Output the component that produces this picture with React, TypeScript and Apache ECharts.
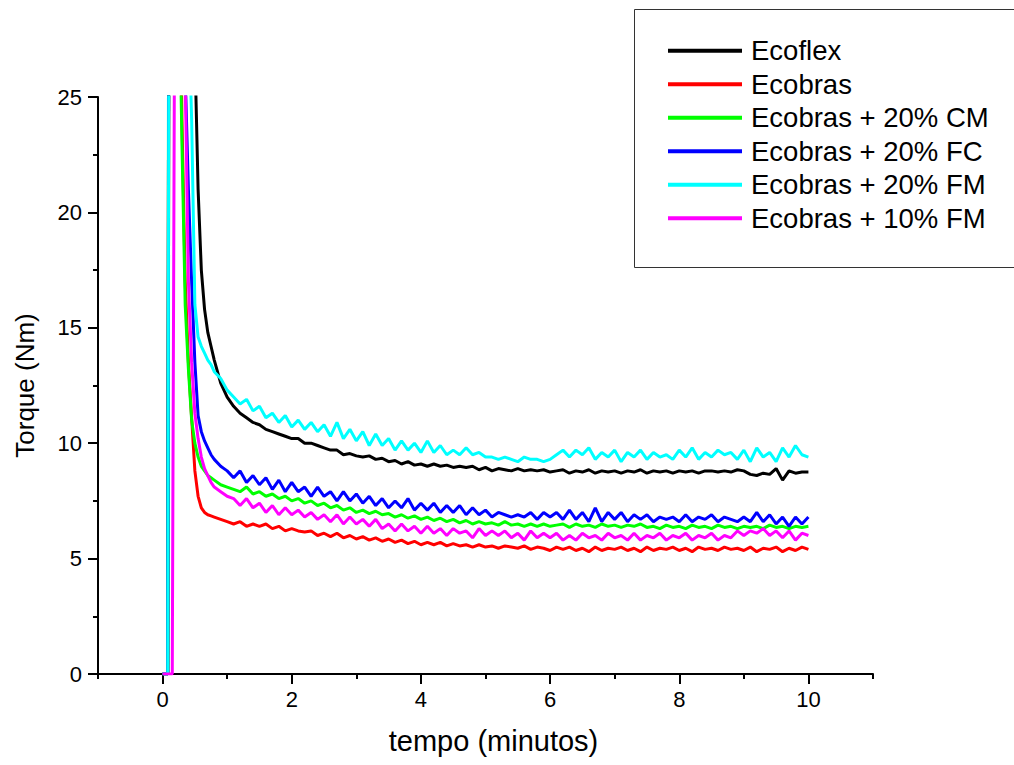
import React, { useEffect, useRef } from "react";
import * as echarts from "echarts";

const TIME = [
  0, 0.05, 0.08, 0.1, 0.15, 0.2, 0.25, 0.3, 0.35, 0.4, 0.45, 0.5, 0.55, 0.6, 0.65, 0.7, 0.75, 0.8, 0.9, 1.0,
  1.1, 1.2, 1.3, 1.4, 1.5, 1.6, 1.7, 1.8, 1.9, 2.0,
  2.1, 2.2, 2.3, 2.4, 2.5, 2.6, 2.7, 2.8, 2.9, 3.0,
  3.1, 3.2, 3.3, 3.4, 3.5, 3.6, 3.7, 3.8, 3.9, 4.0,
  4.1, 4.2, 4.3, 4.4, 4.5, 4.6, 4.7, 4.8, 4.9, 5.0,
  5.1, 5.2, 5.3, 5.4, 5.5, 5.6, 5.7, 5.8, 5.9, 6.0,
  6.1, 6.2, 6.3, 6.4, 6.5, 6.6, 6.7, 6.8, 6.9, 7.0,
  7.1, 7.2, 7.3, 7.4, 7.5, 7.6, 7.7, 7.8, 7.9, 8.0,
  8.1, 8.2, 8.3, 8.4, 8.5, 8.6, 8.7, 8.8, 8.9, 9.0,
  9.1, 9.2, 9.3, 9.4, 9.5, 9.6, 9.7, 9.8, 9.9, 10.0,
];

const ECOFLEX = [
  0, 0, 0, 30, 55, 62, 58, 50, 42, 36, 31, 27, 21, 17.5, 15.8, 14.8, 14.2, 13.6, 12.6, 12.0,
  11.6, 11.3, 11.1, 10.9, 10.8, 10.6, 10.5, 10.4, 10.3, 10.2,
  10.2, 10.0, 10.0, 9.9, 9.8, 9.7, 9.7, 9.5, 9.55, 9.45,
  9.4, 9.45, 9.3, 9.35, 9.2, 9.25, 9.1, 9.2, 9.05, 9.1,
  9.0, 9.1, 9.0, 9.05, 8.95, 9.0, 8.95, 9.0, 8.85, 8.95,
  8.8, 8.9, 8.85, 8.8, 8.9, 8.8, 8.85, 8.8, 8.85, 8.75,
  8.8, 8.85, 8.7, 8.8, 8.75, 8.85, 8.7, 8.8, 8.75, 8.8,
  8.7, 8.8, 8.75, 8.85, 8.7, 8.8, 8.75, 8.8, 8.7, 8.8,
  8.75, 8.8, 8.7, 8.8, 8.8, 8.75, 8.8, 8.75, 8.85, 8.8,
  8.65, 8.6, 8.7, 8.65, 8.9, 8.4, 8.8, 8.7, 8.75, 8.75,
];

const ECOBRAS = [
  0, 0, 0, 40, 55, 46, 35, 24, 17, 13.5, 11.1, 8.8, 7.7, 7.2, 7.0, 6.9, 6.85, 6.8, 6.7, 6.6,
  6.5, 6.6, 6.4, 6.5, 6.4, 6.5, 6.3, 6.4, 6.2, 6.3,
  6.2, 6.15, 6.2, 6.0, 6.1, 5.95, 6.1, 5.9, 6.0, 5.85,
  5.95, 5.8, 5.9, 5.75, 5.85, 5.7, 5.8, 5.65, 5.75, 5.6,
  5.7, 5.6, 5.7, 5.55, 5.65, 5.55, 5.6, 5.5, 5.6, 5.5,
  5.55, 5.45, 5.55, 5.5, 5.45, 5.55, 5.4, 5.5, 5.45, 5.35,
  5.5, 5.4, 5.5, 5.35, 5.45, 5.3, 5.5, 5.35, 5.45, 5.4,
  5.5, 5.35, 5.45, 5.3, 5.5, 5.35, 5.45, 5.4, 5.5, 5.35,
  5.45, 5.3, 5.5, 5.4, 5.45, 5.35, 5.5, 5.4, 5.45, 5.35,
  5.5, 5.3, 5.45, 5.4, 5.5, 5.3, 5.45, 5.35, 5.5, 5.4,
];

const ECOBRAS_CM20 = [
  0, 0, 0, 45, 55, 42, 31, 23, 16, 13.2, 11.0, 10.0, 9.4, 9.0, 8.8, 8.6, 8.5, 8.4, 8.2, 8.1,
  8.0, 7.9, 8.1, 7.8, 7.9, 7.7, 7.8, 7.6, 7.7, 7.5,
  7.6, 7.4, 7.5, 7.3, 7.4, 7.2, 7.3, 7.1, 7.2, 7.0,
  7.1, 6.95, 7.05, 6.9, 6.95, 6.8, 6.9, 6.75, 6.85, 6.7,
  6.8, 6.65, 6.75, 6.6, 6.7, 6.55, 6.65, 6.5, 6.6, 6.5,
  6.55, 6.45, 6.6, 6.45, 6.5, 6.4, 6.5, 6.4, 6.5, 6.4,
  6.45, 6.5, 6.35, 6.5, 6.4, 6.45, 6.35, 6.5, 6.4, 6.45,
  6.35, 6.45, 6.4, 6.5, 6.35, 6.4, 6.3, 6.45, 6.35, 6.4,
  6.3, 6.45, 6.35, 6.4, 6.3, 6.45, 6.35, 6.4, 6.3, 6.4,
  6.35, 6.4, 6.3, 6.45, 6.35, 6.4, 6.3, 6.4, 6.35, 6.4,
];

const ECOBRAS_FC20 = [
  0, 0, 0, 40, 58, 60, 50, 38, 26, 21, 17, 13.5, 11.2, 10.5, 10.1, 9.8, 9.5, 9.3, 9.0, 8.8,
  8.5, 8.8, 8.3, 8.6, 8.2, 8.5, 8.0, 8.4, 7.9, 8.3,
  7.9, 8.1, 7.7, 8.1, 7.7, 7.9, 7.5, 7.9, 7.5, 7.8,
  7.4, 7.7, 7.3, 7.6, 7.2, 7.5, 7.2, 7.6, 7.1, 7.4,
  7.1, 7.4, 7.0, 7.3, 7.0, 7.3, 6.9, 7.2, 6.9, 7.1,
  6.8, 7.0, 6.9, 6.8, 6.9, 6.8, 7.0, 6.7, 7.0, 6.8,
  7.0, 6.7, 7.1, 6.7, 7.0, 6.6, 7.2, 6.6, 7.0, 6.7,
  7.0, 6.6, 6.9, 6.7, 6.9, 6.6, 6.8, 6.7, 6.8, 6.6,
  6.9, 6.6, 6.8, 6.7, 6.9, 6.6, 6.8, 6.7, 6.6, 6.8,
  6.6, 7.0, 6.6, 6.9, 6.5, 6.8, 6.4, 6.8, 6.5, 6.8,
];

const ECOBRAS_FM20 = [
  0, 0, 0, 35, 55, 58, 52, 44, 36, 29, 24, 16, 14.6, 14.2, 13.9, 13.6, 13.4, 13.1, 12.8, 12.3,
  12.0, 11.7, 11.9, 11.4, 11.6, 11.1, 11.3, 10.9, 11.2, 10.7,
  11.0, 10.6, 10.9, 10.5, 10.8, 10.3, 10.9, 10.2, 10.6, 10.1,
  10.5, 9.9, 10.4, 9.9, 10.2, 9.7, 10.1, 9.7, 10.0, 9.6,
  10.1, 9.6, 9.9, 9.5, 9.7, 9.5, 9.8, 9.5, 9.6, 9.4,
  9.4, 9.3, 9.4, 9.3, 9.2, 9.4, 9.3, 9.3, 9.2, 9.3,
  9.5, 9.7, 9.4, 9.7, 9.5, 9.8, 9.3, 9.6, 9.4, 9.7,
  9.2, 9.6, 9.4, 9.7, 9.3, 9.6, 9.4, 9.5, 9.3, 9.7,
  9.4, 9.8, 9.3, 9.6, 9.4, 9.7, 9.5, 9.6, 9.3, 9.7,
  9.2, 9.8, 9.4, 9.6, 9.2, 9.8, 9.4, 9.9, 9.5, 9.4,
];

const ECOBRAS_FM10 = [
  0, 0, 0, 0, 0, 40, 35, 30, 26, 17, 13.5, 11.3, 10.2, 9.4, 8.9, 8.6, 8.3, 8.1, 7.9, 7.7,
  7.6, 7.3, 7.6, 7.2, 7.4, 7.0, 7.3, 6.9, 7.2, 6.9,
  7.1, 6.8, 7.0, 6.7, 6.9, 6.6, 6.9, 6.5, 6.8, 6.5,
  6.7, 6.4, 6.7, 6.3, 6.5, 6.2, 6.5, 6.2, 6.4, 6.1,
  6.4, 6.1, 6.3, 6.0, 6.3, 6.1, 6.2, 5.9, 6.3, 6.0,
  6.2, 6.0, 6.2, 5.9, 6.1, 5.8, 6.2, 5.9, 6.1, 5.9,
  6.1, 5.8, 6.0, 5.8, 6.1, 5.9, 6.0, 5.8, 6.1, 5.9,
  6.0, 5.8, 6.1, 5.8, 6.0, 5.9, 6.1, 5.8, 6.0, 5.9,
  6.1, 5.8, 6.0, 5.9, 6.1, 5.8, 6.0, 5.9, 6.2, 6.0,
  6.2, 6.1, 6.3, 6.0, 6.2, 5.9, 6.2, 5.8, 6.1, 6.0,
];

const SERIES_NAMES = [
  "Ecoflex",
  "Ecobras",
  "Ecobras + 20% CM",
  "Ecobras + 20% FC",
  "Ecobras + 20% FM",
  "Ecobras + 10% FM",
];
const SERIES_VALUES = [ECOFLEX, ECOBRAS, ECOBRAS_CM20, ECOBRAS_FC20, ECOBRAS_FM20, ECOBRAS_FM10];
const COLORS = ["#000000", "#ff0000", "#00ff00", "#0000ff", "#00ffff", "#ff00ff"];

const X_MAJOR = [0, 2, 4, 6, 8, 10];
const X_MINOR = [-1, 1, 3, 5, 7, 9, 11];
const Y_MAJOR = [0, 5, 10, 15, 20, 25];
const Y_MINOR = [2.5, 7.5, 12.5, 17.5, 22.5];

const FONT = '"Liberation Sans", Arial, Helvetica, sans-serif';

export default function App() {
  const ref = useRef<HTMLDivElement>(null);

  useEffect(() => {
    if (!ref.current) return;
    const chart = echarts.init(ref.current, undefined, { renderer: "svg" });
    const axisLineStyle = { color: "#000", width: 2 };
    const option: any = {
      animation: false,
      backgroundColor: "#ffffff",
      grid: { left: 98, top: 97, width: 775, height: 577 },
      xAxis: [
        {
          type: "value",
          min: -1,
          max: 11,
          position: "bottom",
          axisLine: { show: true, onZero: false, lineStyle: axisLineStyle },
          axisTick: { show: true, customValues: X_MAJOR, length: 10, lineStyle: axisLineStyle },
          axisLabel: { customValues: X_MAJOR, margin: 14, fontSize: 22, color: "#000", fontFamily: FONT },
          splitLine: { show: false },
          name: "tempo (minutos)",
          nameLocation: "middle",
          nameGap: 52,
          nameTextStyle: { fontSize: 29, color: "#000", fontFamily: FONT, padding: [0, 0, 0, 16] },
        },
        {
          type: "value",
          min: -1,
          max: 11,
          position: "bottom",
          axisLine: { show: false, onZero: false },
          axisTick: { show: true, customValues: X_MINOR, length: 5, lineStyle: axisLineStyle },
          axisLabel: { show: false },
          splitLine: { show: false },
        },
      ],
      yAxis: [
        {
          type: "value",
          min: 0,
          max: 25,
          position: "left",
          axisLine: { show: true, onZero: false, lineStyle: axisLineStyle },
          axisTick: { show: true, customValues: Y_MAJOR, length: 10, lineStyle: axisLineStyle },
          axisLabel: { customValues: Y_MAJOR, margin: 16, fontSize: 22, color: "#000", fontFamily: FONT },
          splitLine: { show: false },
          name: "Torque (Nm)",
          nameLocation: "middle",
          nameGap: 60,
          nameTextStyle: { fontSize: 26, color: "#000", fontFamily: FONT },
        },
        {
          type: "value",
          min: 0,
          max: 25,
          position: "left",
          axisLine: { show: false, onZero: false },
          axisTick: { show: true, customValues: Y_MINOR, length: 5, lineStyle: axisLineStyle },
          axisLabel: { show: false },
          splitLine: { show: false },
        },
      ],
      legend: {
        orient: "vertical",
        left: 668,
        top: 34,
        padding: 0,
        itemWidth: 74,
        itemHeight: 4,
        itemGap: 0,
        icon: "rect",
        data: SERIES_NAMES,
        textStyle: {
          fontSize: 27.5,
          lineHeight: 33.5,
          color: "#000",
          fontFamily: FONT,
          padding: [0, 0, 0, 4],
        },
      },
      graphic: [
        {
          type: "rect",
          left: 632,
          top: 7,
          shape: { width: 380, height: 258 },
          style: { fill: "none", stroke: "#333", lineWidth: 1 },
          silent: true,
          z: 0,
        },
      ],
      series: SERIES_NAMES.map((name, i) => ({
        name,
        type: "line",
        xAxisIndex: 0,
        yAxisIndex: 0,
        showSymbol: false,
        symbol: "none",
        clip: true,
        color: COLORS[i],
        lineStyle: { color: COLORS[i], width: 3 },
        itemStyle: { color: COLORS[i] },
        data: TIME.map((t, k) => [t, SERIES_VALUES[i][k]]),
      })),
    };
    chart.setOption(option);
    return () => chart.dispose();
  }, []);

  return (
    <div
      ref={ref}
      style={{ position: "absolute", left: 0, top: 0, width: 1014, height: 765, background: "#fff" }}
    />
  );
}
